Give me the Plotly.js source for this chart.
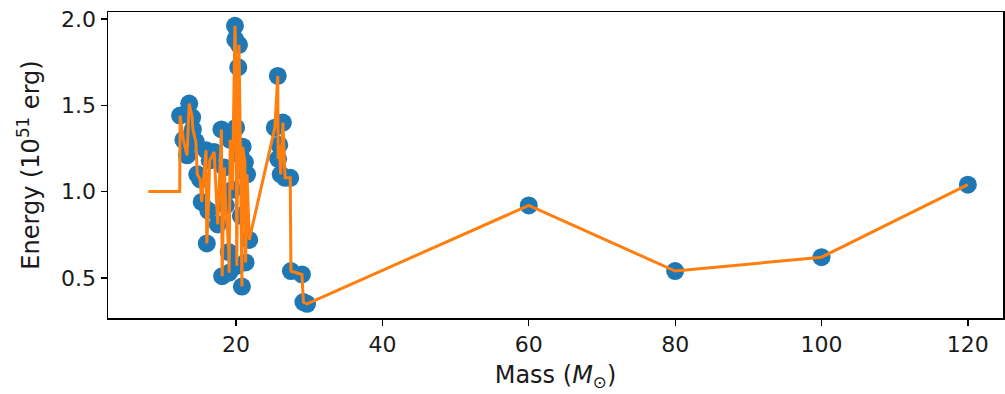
<!DOCTYPE html>
<html>
<head>
<meta charset="utf-8">
<script src="https://cdn.plot.ly/plotly-3.0.1.min.js"></script>
<style>html,body{margin:0;padding:0;background:#fff;}#chart{width:1005px;height:394px;}</style>
</head>
<body>
<div id="chart"></div>
<script>
// Scatter points (mass in solar masses, explosion energy in 1e51 erg)
const mass = [12.35, 12.8, 13.3, 13.6, 14.0, 14.1, 14.5, 14.7, 15.1, 15.3, 15.9, 16.0, 16.2, 16.4, 17.0, 17.5, 18.0, 18.1, 18.4, 18.6, 19.0, 19.05, 19.2, 19.5, 19.85, 19.9, 20.0, 20.1, 20.3, 20.4, 20.6, 20.65, 20.8, 20.9, 21.2, 21.3, 21.5, 21.8, 25.3, 25.7, 25.75, 25.9, 26.1, 26.4, 26.7, 27.4, 27.5, 29.0, 29.2, 29.7, 60, 80, 100, 120];
const energy = [1.44, 1.30, 1.21, 1.51, 1.43, 1.36, 1.29, 1.10, 1.07, 0.94, 1.24, 0.70, 0.89, 1.18, 1.23, 0.81, 1.36, 0.51, 1.14, 0.92, 0.65, 0.53, 1.30, 1.01, 1.96, 1.88, 1.37, 0.57, 1.72, 1.85, 1.21, 0.86, 0.45, 1.26, 1.17, 0.59, 1.10, 0.72, 1.37, 1.67, 1.19, 1.27, 1.10, 1.40, 1.08, 1.08, 0.54, 0.52, 0.36, 0.35, 0.92, 0.54, 0.62, 1.04];
// Line starts with a flat segment before the first model
const lineStartX = [8, 12.3];
const lineStartY = [1.0, 1.0];

const lineX = lineStartX.concat(mass);
const lineY = lineStartY.concat(energy);

const xTicks = [20, 40, 60, 80, 100, 120];
const yTicks = [0.5, 1.0, 1.5, 2.0];

const font = {family: 'DejaVu Sans, sans-serif', size: 22, color: '#1a1a1a'};
const titleFont = {family: 'DejaVu Sans, sans-serif', size: 24, color: '#1a1a1a'};

const traces = [
  {x: mass, y: energy, mode: 'markers', type: 'scatter',
   marker: {color: '#1f77b4', size: 18, line: {width: 0}}, hoverinfo: 'skip'},
  {x: lineX, y: lineY, mode: 'lines', type: 'scatter',
   line: {color: '#ff7f0e', width: 3}, hoverinfo: 'skip'}
];

const layout = {
  width: 1005, height: 394,
  margin: {l: 108, r: 2, t: 12, b: 76},
  paper_bgcolor: '#fff', plot_bgcolor: '#fff',
  showlegend: false,
  font: font,
  xaxis: {
    range: [2.5, 124.8], tickvals: xTicks, ticktext: xTicks.map(String),
    showgrid: false, zeroline: false, showline: true, mirror: true, automargin: false,
    linecolor: '#000', linewidth: 1.5, ticks: 'outside', ticklen: 6, tickwidth: 1.3, tickcolor: '#000',
    tickfont: font,
    title: {text: 'Mass (<i>M</i><sub>⊙</sub>)', font: titleFont, standoff: 10}
  },
  yaxis: {
    range: [0.268, 2.04], tickvals: yTicks, ticktext: yTicks.map(v => v.toFixed(1)),
    showgrid: false, zeroline: false, showline: true, mirror: true, automargin: false,
    linecolor: '#000', linewidth: 1.5, ticks: 'outside', ticklen: 6, tickwidth: 1.3, tickcolor: '#000',
    tickfont: font,
    title: {text: 'Energy (10<sup>51</sup> erg)', font: titleFont, standoff: 14}
  }
};

Plotly.newPlot('chart', traces, layout, {staticPlot: true, displayModeBar: false});
</script>
</body>
</html>
